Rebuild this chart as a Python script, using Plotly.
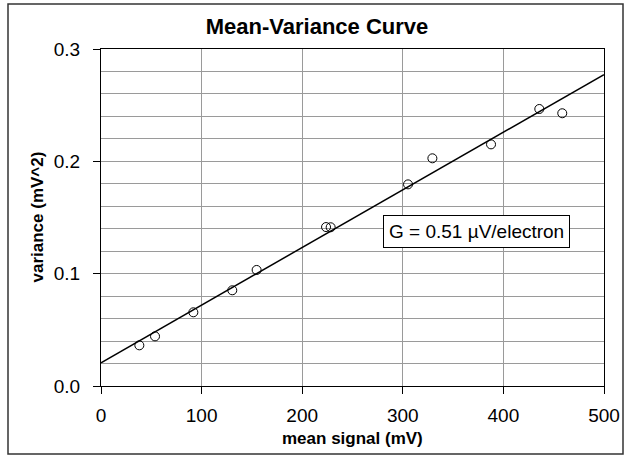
import numpy as np
import plotly.graph_objects as go

# Measured mean signal (mV) and variance (mV^2)
mean_signal = [38.1, 53.7, 91.8, 130.5, 154.7, 223.7, 228.3, 305.2, 329.4, 387.7, 435.7, 458.5]
variance = [0.0362, 0.0442, 0.0656, 0.0852, 0.1033, 0.1415, 0.1413, 0.1795, 0.2027, 0.2151, 0.2466, 0.2428]

x_ticks = [0, 100, 200, 300, 400, 500]
y_ticks = [0.0, 0.1, 0.2, 0.3]
gain_label = "G = 0.51 µV/electron"

# Least-squares straight-line fit across the full x range
slope, intercept = np.polyfit(mean_signal, variance, 1)
fit_x = [0, 500]
fit_y = [intercept + slope * v for v in fit_x]

FONT = "Liberation Sans, Arial, sans-serif"
GRID = "#9a9a9a"

# Plot-area geometry in pixels (used for paper-relative placement)
L, R, T, B = 101, 604, 49, 386
PW, PH = R - L, B - T

fig = go.Figure()
fig.add_trace(go.Scatter(
    x=fit_x, y=fit_y, mode="lines",
    line=dict(color="black", width=1.5), showlegend=False, hoverinfo="skip",
))
fig.add_trace(go.Scatter(
    x=mean_signal, y=variance, mode="markers",
    marker=dict(symbol="circle-open", size=9, color="black", line=dict(width=1)),
    showlegend=False,
))

fig.update_layout(
    width=631, height=461,
    margin=dict(l=L, r=631 - R, t=T, b=461 - B),
    paper_bgcolor="white", plot_bgcolor="white",
    font=dict(family=FONT, color="black", size=19),
    title=dict(text="<b>Mean-Variance Curve</b>", x=317 / 631, xref="container", xanchor="center",
               y=1 - 26 / 461, yref="container", yanchor="middle",
               font=dict(family=FONT, size=22, color="black")),
)

fig.update_xaxes(
    range=[0, 500], tickvals=x_ticks, ticktext=[str(v) for v in x_ticks],
    showgrid=True, gridcolor=GRID, gridwidth=1,
    showline=True, linecolor="black", linewidth=1, mirror=True,
    ticks="outside", ticklen=7, tickcolor="black", tickwidth=1,
    ticklabelstandoff=5,
    tickfont=dict(size=19), zeroline=False,
)
fig.update_yaxes(
    range=[0, 0.3], tickvals=y_ticks, ticktext=[f"{v:.1f}" for v in y_ticks],
    showgrid=True, gridcolor=GRID, gridwidth=1,
    minor=dict(dtick=0.02, tick0=0, showgrid=True, gridcolor=GRID, gridwidth=1, ticks=""),
    showline=True, linecolor="black", linewidth=1, mirror=True,
    ticks="outside", ticklen=7, tickcolor="black", tickwidth=1,
    ticklabelstandoff=9,
    tickfont=dict(size=19), zeroline=False,
)

# Axis titles
fig.add_annotation(
    x=0.5, y=(B - 438) / PH, xref="paper", yref="paper", text="<b>mean signal (mV)</b>",
    showarrow=False, xanchor="center", yanchor="middle", font=dict(size=17, family=FONT),
)
fig.add_annotation(
    x=(37 - L) / PW, y=0.5, xref="paper", yref="paper", text="<b>variance (mV^2)</b>",
    showarrow=False, textangle=-90, xanchor="center", yanchor="middle",
    font=dict(size=17, family=FONT),
)

# Fit annotation
fig.add_annotation(
    x=373.3, y=0.1375, xref="x", yref="y", text=gain_label, showarrow=False,
    font=dict(size=19, family=FONT), bgcolor="white", bordercolor="black",
    borderwidth=1, borderpad=5,
)

# Outer chart frame
fig.add_shape(type="rect", xref="paper", yref="paper",
              x0=(8 - L) / PW, x1=(623 - L) / PW,
              y0=(B - 454) / PH, y1=(B - 4) / PH,
              line=dict(color="#333333", width=1.5), layer="below")

fig.write_html("out.html")
